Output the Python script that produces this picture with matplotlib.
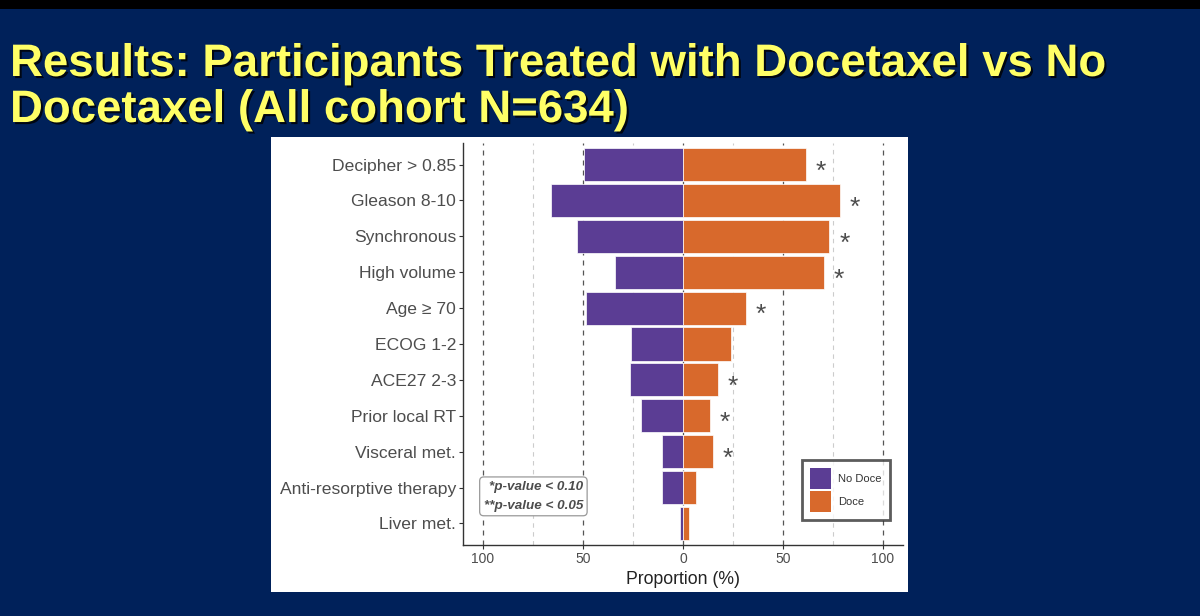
"""Docetaxel vs no docetaxel: proportion of participants by characteristic."""
import matplotlib
matplotlib.use("Agg")
import matplotlib.pyplot as plt
import matplotlib.patheffects as pe
from matplotlib.patches import Patch, Rectangle

plt.rcParams["font.family"] = ["Liberation Sans", "DejaVu Sans"]

CATEGORIES = [
    "Decipher > 0.85",
    "Gleason 8-10",
    "Synchronous",
    "High volume",
    "Age ≥ 70",
    "ECOG 1-2",
    "ACE27 2-3",
    "Prior local RT",
    "Visceral met.",
    "Anti-resorptive therapy",
    "Liver met.",
]
NO_DOCE = [49.5, 66.2, 53.0, 33.8, 48.6, 26.0, 26.6, 21.2, 10.3, 10.7, 1.6]
DOCE = [61.6, 78.5, 73.2, 70.4, 31.6, 23.9, 17.3, 13.4, 14.9, 6.7, 3.0]
STARS = ["*", "*", "*", "*", "*", "", "*", "*", "*", "", ""]
XTICKS = [-100, -50, 0, 50, 100]
XTICK_LABELS = ["100", "50", "0", "50", "100"]
MINOR = [-75, -25, 25, 75]

NAVY = "#00215A"
PURPLE = "#5B3D94"
ORANGE = "#D8692C"
TITLE = "Results: Participants Treated with Docetaxel vs No\nDocetaxel (All cohort N=634)"


def main() -> None:
    fig = plt.figure(figsize=(12, 6.16), dpi=100, facecolor=NAVY)

    # black band on top and white chart panel
    fig.patches.append(Rectangle((0, 1 - 9 / 616), 1, 9 / 616, transform=fig.transFigure,
                                 facecolor="black", edgecolor="none", zorder=0))
    fig.patches.append(Rectangle((271 / 1200, 24 / 616), 637 / 1200, 455 / 616,
                                 transform=fig.transFigure, facecolor="white",
                                 edgecolor="none", zorder=0))

    fig.text(10 / 1200, 1 - 42 / 616, TITLE, ha="left", va="top", fontsize=32.8,
             fontweight="bold", color="#FFFF66", linespacing=1.06,
             path_effects=[pe.withSimplePatchShadow(offset=(1.5, -1.5), shadow_rgbFace="black", alpha=0.8)])

    ax = fig.add_axes([463 / 1200, 71 / 616, 440 / 1200, 402 / 616])
    ax.set_zorder(2)
    ax.set_facecolor("white")
    ypos = list(range(len(CATEGORIES)))

    for x in MINOR:
        ax.axvline(x, color="#CCCCCC", lw=0.8, ls=(0, (4, 4)), zorder=0)
    for x in XTICKS:
        ax.axvline(x, color="#555555", lw=0.9, ls=(0, (4, 4)), zorder=0)

    ax.barh(ypos, [-v for v in NO_DOCE], height=0.92, color=PURPLE,
            edgecolor="white", lw=0.5, label="No Doce", zorder=2)
    ax.barh(ypos, DOCE, height=0.92, color=ORANGE,
            edgecolor="white", lw=0.5, label="Doce", zorder=2)

    for y, v, s in zip(ypos, DOCE, STARS):
        if s:
            ax.text(v + 7.5, y + 0.2, s, ha="center", va="center",
                    fontsize=19, color="#4D4D4D", zorder=3)

    ax.set_xlim(-110, 110)
    ax.set_ylim(len(CATEGORIES) - 0.4, -0.6)
    ax.set_yticks(ypos)
    ax.set_yticklabels(CATEGORIES, fontsize=12.6, color="#4D4D4D")
    ax.set_xticks(XTICKS)
    ax.set_xticklabels(XTICK_LABELS, fontsize=10, color="#4D4D4D")
    ax.tick_params(axis="both", length=3, width=0.8, color="#333333", pad=2)
    ax.set_xlabel("Proportion (%)", fontsize=12.7, color="#222222", labelpad=4)

    for side in ("top", "right"):
        ax.spines[side].set_visible(False)
    for side in ("left", "bottom"):
        ax.spines[side].set_color("#333333")
        ax.spines[side].set_linewidth(1.0)

    ax.text(0.160, 0.121, "*p-value < 0.10\n**p-value < 0.05", transform=ax.transAxes,
            ha="center", va="center", multialignment="right", fontsize=9.7,
            fontweight="bold", fontstyle="italic", color="#4D4D4D", linespacing=1.75,
            bbox=dict(boxstyle="round,pad=0.3,rounding_size=0.3", facecolor="white",
                      edgecolor="#999999", lw=0.9), zorder=4)

    handles = [Patch(facecolor=PURPLE, label="No Doce"), Patch(facecolor=ORANGE, label="Doce")]
    leg = ax.legend(handles=handles, loc="lower left", bbox_to_anchor=(0.770, 0.062),
                    borderaxespad=0, fontsize=8, frameon=True, fancybox=False,
                    handlelength=1.9, handleheight=2.55, labelspacing=0.1,
                    handletextpad=0.6, borderpad=0.75)
    leg.get_frame().set_edgecolor("#333333")
    leg.get_frame().set_linewidth(2)
    for t in leg.get_texts():
        t.set_color("#333333")

    fig.savefig("out.png", dpi=100, facecolor=NAVY)
    plt.close(fig)


if __name__ == "__main__":
    main()
